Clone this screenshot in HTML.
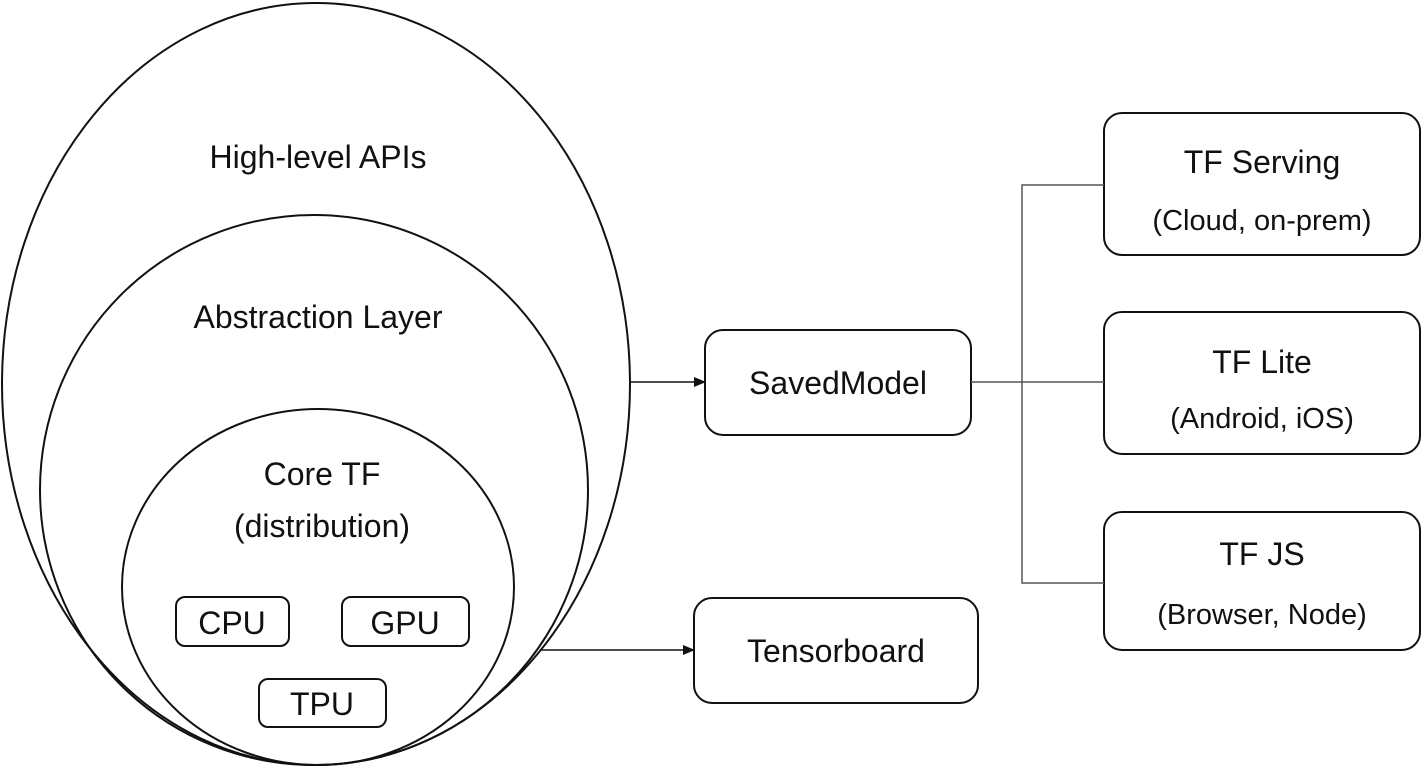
<!DOCTYPE html>
<html><head><style>html,body{margin:0;padding:0;background:#fff;}</style></head>
<body>
<svg width="1428" height="767" viewBox="0 0 1428 767" xmlns="http://www.w3.org/2000/svg" font-family="Liberation Sans, sans-serif" fill="none" stroke="#111" stroke-width="2">
<defs><marker id="a" markerWidth="12" markerHeight="10" refX="11" refY="5" orient="auto" markerUnits="userSpaceOnUse"><path d="M0,0 L12,5 L0,10 Z" fill="#111" stroke="none"/></marker></defs>
<ellipse cx="316" cy="384" rx="314" ry="381"/>
<ellipse cx="314" cy="490" rx="274" ry="275"/>
<ellipse cx="318" cy="587" rx="196" ry="178"/>
<rect x="176" y="597" width="113" height="49" rx="9"/>
<rect x="342" y="597" width="127" height="49" rx="9"/>
<rect x="259" y="679" width="127" height="48" rx="9"/>
<rect x="705" y="330" width="266" height="105" rx="18"/>
<rect x="694" y="598" width="284" height="105" rx="18"/>
<rect x="1104" y="113" width="316" height="142" rx="18"/>
<rect x="1104" y="312" width="316" height="142" rx="18"/>
<rect x="1104" y="512" width="316" height="138" rx="18"/>
<line x1="631" y1="382" x2="705" y2="382" stroke-width="1.5" marker-end="url(#a)"/>
<line x1="540" y1="650" x2="694" y2="650" stroke-width="1.5" marker-end="url(#a)"/>
<g stroke="#555" stroke-width="1.5">
<line x1="971" y1="382" x2="1104" y2="382"/>
<polyline points="1104,185 1022,185 1022,583 1104,583"/>
</g>
<g fill="#111" stroke="none" font-size="32" text-anchor="middle">
<text x="318" y="168">High-level APIs</text>
<text x="318" y="328">Abstraction Layer</text>
<text x="322" y="485">Core TF</text>
<text x="322" y="537">(distribution)</text>
<text x="232" y="634">CPU</text>
<text x="405" y="634">GPU</text>
<text x="322" y="715">TPU</text>
<text x="838" y="394">SavedModel</text>
<text x="836" y="662">Tensorboard</text>
<text x="1262" y="173">TF Serving</text>
<text x="1262" y="230" font-size="29">(Cloud, on-prem)</text>
<text x="1262" y="373">TF Lite</text>
<text x="1262" y="428" font-size="29">(Android, iOS)</text>
<text x="1262" y="565">TF JS</text>
<text x="1262" y="624" font-size="29">(Browser, Node)</text>
</g>
</svg>
</body></html>
